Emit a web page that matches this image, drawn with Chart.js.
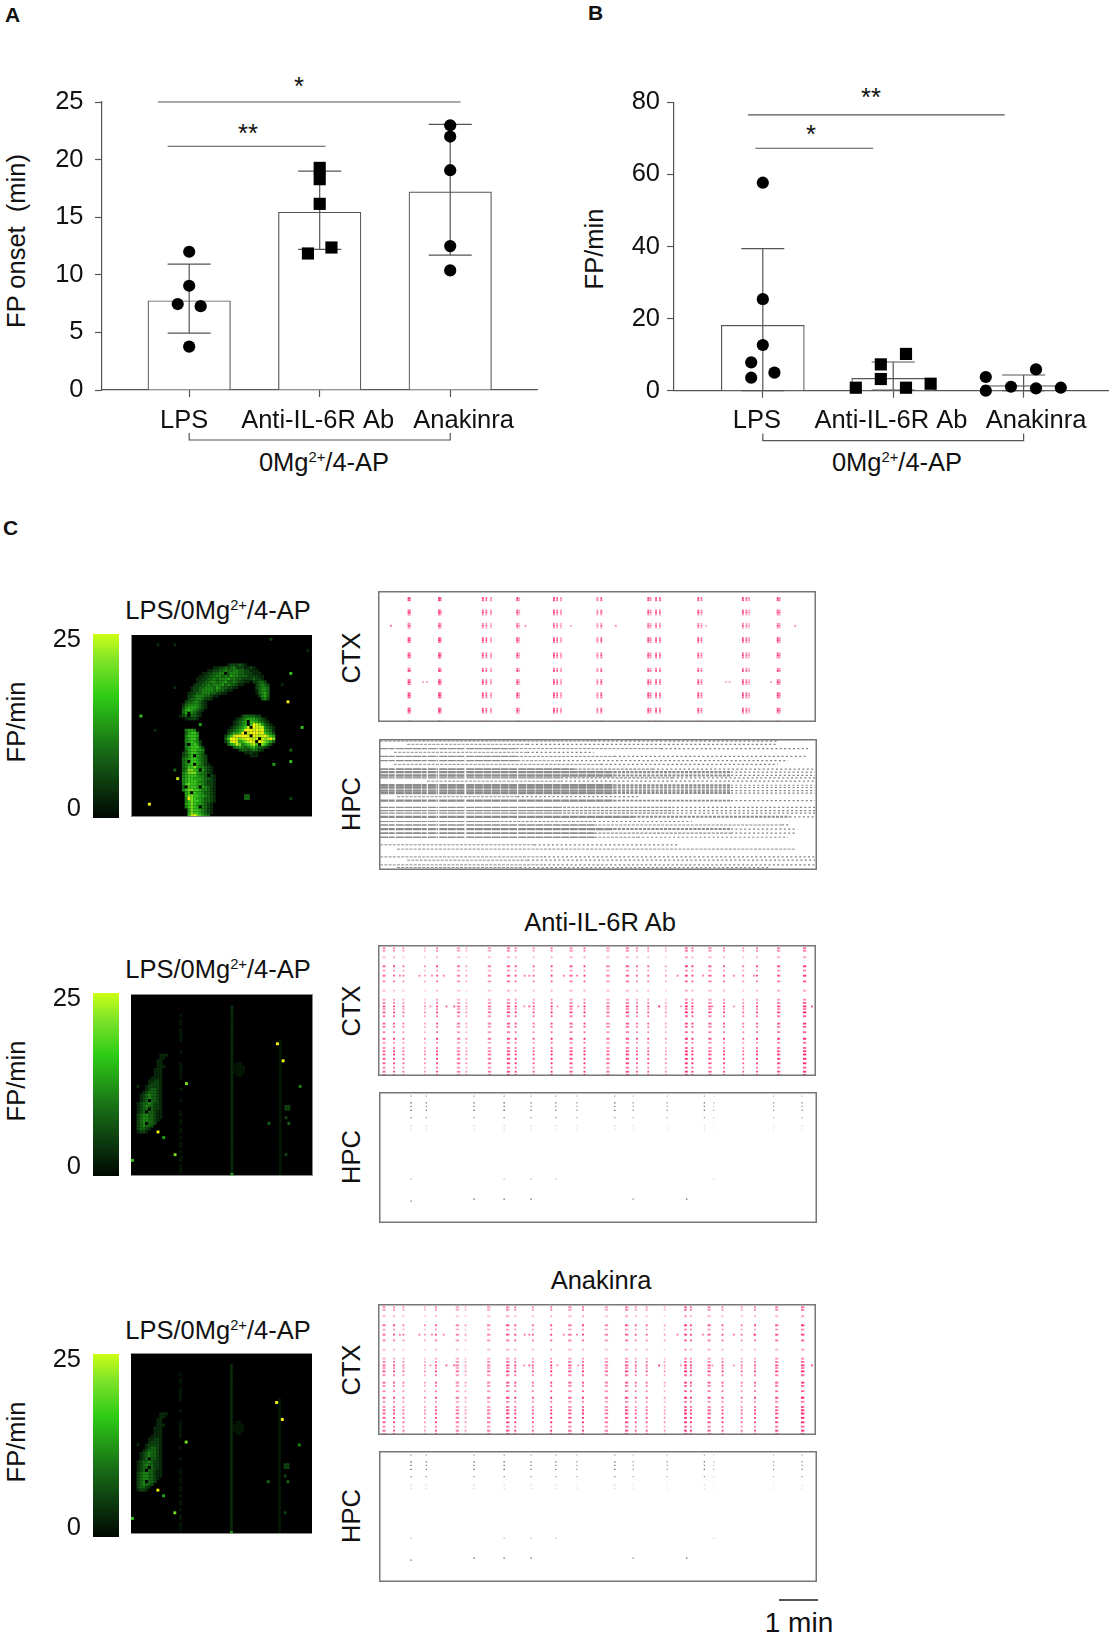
<!DOCTYPE html>
<html>
<head>
<meta charset="utf-8">
<title>FP onset and rate</title>
<script src="https://cdn.jsdelivr.net/npm/chart.js@4"></script>
<style>
  html, body { margin: 0; padding: 0; background: #fff; }
  body { position: relative; width: 1112px; height: 1637px; overflow: hidden; font-family: "Liberation Sans", Arial, sans-serif; color: #111; }
  canvas { position: absolute; }
  .t { position: absolute; font-size: 25.5px; line-height: 25.5px; white-space: nowrap; transform: translateX(-50%); }
  .r { position: absolute; font-size: 25.5px; line-height: 25.5px; white-space: nowrap; transform: translate(-50%, -50%) rotate(-90deg); }
  .p { position: absolute; font-size: 21px; line-height: 21px; font-weight: bold; }
  sup { font-size: 0.58em; line-height: 0; }
</style>
</head>
<body>
<div class="p" style="left:5px;top:4px">A</div>
<div class="p" style="left:588px;top:2px">B</div>
<div class="p" style="left:3px;top:517px">C</div>

<div class="r" style="left:17px;top:241px">FP onset&nbsp; (min)</div>
<div class="r" style="left:595px;top:249px">FP/min</div>
<div class="t" style="left:299px;top:74px">*</div>
<div class="t" style="left:248px;top:121px">**</div>
<div class="t" style="left:871px;top:85px">**</div>
<div class="t" style="left:811px;top:122px">*</div>
<div class="t" style="left:324px;top:450px">0Mg<sup>2+</sup>/4-AP</div>
<div class="t" style="left:897px;top:450px">0Mg<sup>2+</sup>/4-AP</div>

<div class="t" style="left:218px;top:598px">LPS/0Mg<sup>2+</sup>/4-AP</div>
<div class="t" style="left:218px;top:957px">LPS/0Mg<sup>2+</sup>/4-AP</div>
<div class="t" style="left:218px;top:1318px">LPS/0Mg<sup>2+</sup>/4-AP</div>
<div class="t" style="left:600px;top:910px">Anti-IL-6R Ab</div>
<div class="t" style="left:601px;top:1268px">Anakinra</div>

<div class="r" style="left:17px;top:722px">FP/min</div>
<div class="r" style="left:17px;top:1081px">FP/min</div>
<div class="r" style="left:17px;top:1442px">FP/min</div>
<div class="r" style="left:352px;top:658px">CTX</div>
<div class="r" style="left:352px;top:804px">HPC</div>
<div class="r" style="left:352px;top:1011px">CTX</div>
<div class="r" style="left:352px;top:1157px">HPC</div>
<div class="r" style="left:352px;top:1370px">CTX</div>
<div class="r" style="left:352px;top:1516px">HPC</div>
<div style="position:absolute;left:779px;top:1599px;width:39px;height:1.5px;background:#555"></div>
<div class="t" style="left:799px;top:1609px;font-size:28px;line-height:28px">1 min</div>

<script>
"use strict";

/* Panel A */
const categories = ["LPS", "Anti-IL-6R Ab", "Anakinra"];
const onsetMeans = [7.75, 15.43, 17.2];
const onsetUpper = [10.92, 19.0, 23.06];
const onsetLower = [4.94, 12.2, 11.7];
const onsetLpsX = [1, 1, 0.912, 1.088, 1];
const onsetLpsY = [12.0, 9.05, 7.46, 7.28, 3.76];
const onsetAntiX = [2, 2, 2, 2.09, 1.91];
const onsetAntiY = [19.28, 18.3, 16.16, 12.37, 11.85];
const onsetAnakX = [3, 3, 3, 3, 3];
const onsetAnakY = [22.98, 22.0, 19.08, 12.49, 10.38];

/* Panel B */
const rateMeans = [18.13, 3.42, 1.39];
const rateUpper = [39.4, 7.96, 4.35];
const rateLower = [0, 0.2, 0];
const rateLpsX = [1, 1, 1, 0.911, 1.089, 0.911];
const rateLpsY = [57.7, 25.4, 12.67, 7.86, 5.0, 3.6];
const rateAntiX = [2.098, 1.905, 1.905, 2.287, 1.713, 2.098];
const rateAntiY = [10.2, 7.3, 3.24, 1.94, 0.83, 0.83];
const rateAnakX = [3.095, 2.71, 2.903, 3.095, 3.285, 2.71];
const rateAnakY = [5.9, 3.8, 1.1, 0.65, 0.83, 0];

/* Heat map palette, one colour per level, the last one is the faintest */
const heatPalette = ["#000000", "#082a0a", "#0e4410", "#156413", "#1c8415", "#26a418", "#38c41c", "#78e01c", "#c0f014", "#f6f812", "#041804"];

/* Heat map 1: [row, first column, levels] */
const heat1Rows = [
  [10,34,"1222321"],[11,29,"112232342221121"],[12,27,"112233433443322111"],[13,25,"112233440344433222111"],
  [14,24,"11223344343544333222211"],[15,23,"112233434445343322223221"],[16,23,"1223344344533432211"],[16,43,"22332"],
  [17,22,"122334344453433211"],[17,44,"23432"],[18,21,"12233444354332211"],[18,44,"23443"],
  [19,21,"122344443433211"],[19,44,"13443"],[20,20,"12233444332211"],[20,44,"13453"],
  [21,20,"22344433211"],[21,45,"2453"],[22,20,"233443221"],[22,46,"342"],[23,19,"23344321"],
  [24,18,"134444321"],[25,18,"245554321"],[26,18,"35654321"],[27,18,"3504321"],[28,17,"12303321"],[29,19,"12221"],
  [28,39,"2333322"],[29,37,"12345554321"],[30,36,"1234506654321"],[31,36,"12345069875321"],
  [32,35,"1234568098884321"],[33,34,"12345699989895431"],[34,34,"23556908999896542"],[35,33,"246899998098889765"],
  [36,33,"369987889888087897"],[37,33,"248985678980987653"],[38,34,"3568745678607642"],[39,36,"3454345643321"],
  [40,38,"233234321"],[41,40,"11211"],[42,42,"111"],
  [33,19,"4554"],[34,19,"35664"],[35,19,"46665"],[36,19,"45664"],[37,19,"456542"],[38,19,"305652"],[39,19,"4566642"],
  [40,19,"3566554"],[41,18,"23566543"],[42,18,"234605432"],[43,18,"345665432"],[44,18,"340665432"],[45,18,"3456054321"],
  [46,18,"34667544321"],[47,18,"34776505321"],[48,18,"45777544321"],[49,18,"456665443021"],[50,18,"456655543321"],
  [51,18,"456665443221"],[52,18,"467665543221"],[53,18,"306665054321"],[54,18,"467766544321"],[55,19,"56065543321"],
  [56,19,"57766554321"],[57,19,"49765543321"],[58,19,"46766543321"],[59,19,"5676554321"],[60,19,"4676504321"],
  [61,20,"576654321"],[62,20,"576654321"],[63,20,"68976543"]
];
const heat1Dots = [
  [28,3,6],[31,24,5],[13,56,6],[23,55,9],[32,60,6],[40,56,3],[44,56,6],[45,50,5],[47,15,3],[50,16,8],[59,6,9],
  [56,40,3],[56,41,3],[57,40,3],[57,41,3],[57,56,2],[1,49,2],[3,15,1],[5,62,1],[3,9,1],[33,8,1],[17,53,1],[18,15,1]
];

/* Heat maps 2 and 3: [row, first column, levels] */
const heat2Rows = [
  [21,10,"111"],[22,10,"11"],[23,9,"11"],[24,9,"11"],[25,9,"111"],[26,8,"111"],[27,8,"111"],[28,8,"111"],[29,7,"1111"],
  [30,6,"11221"],[31,6,"12221"],[32,5,"122221"],[33,5,"123321"],[34,4,"1233321"],[35,3,"12343321"],[36,3,"12343321"],
  [37,3,"12303321"],[38,2,"123343221"],[39,2,"123433221"],[40,2,"123303221"],[41,2,"123033211"],[42,2,"234433211"],
  [43,2,"234433211"],[44,2,"23443321"],[45,2,"2340332"],[46,2,"234332"],[47,2,"23321"],[48,2,"1221"]
];
/* [column, first row, last row, level] */
const heat2Lines = [
  [17,7,7,10],[17,9,9,10],[17,10,10,10],[17,12,12,10],[17,13,16,10],[17,20,20,10],[17,24,29,10],[17,33,33,10],[17,37,37,10],
  [17,41,42,10],[17,44,45,10],[17,47,48,10],[17,50,50,10],[17,52,53,10],[17,55,55,10],[17,57,58,10],[17,60,62,10],
  [35,4,63,1],[52,16,63,10],
  [36,25,27,10],[37,24,28,10],[38,24,28,10],[39,25,27,10]
];
const heat2Dots = [
  [17,51,9],[23,53,9],[31,19,7],[48,9,9],[50,11,5],[56,15,7],[32,59,4],[45,48,3],[45,55,3],[43,54,2],
  [39,55,2],[39,54,2],[40,55,2],[40,54,2],[56,54,2],[32,2,1],[58,0,6],[63,35,5]
];

/* Raster data: time in minutes, channel counted from the top */
const ctx1Times = [0.78,0.82,1.56,1.60,2.68,2.77,2.89,3.56,3.61,4.50,4.58,4.68,5.61,5.71,6.91,6.97,7.11,7.21,8.19,8.27,9.33,9.42,9.49,10.22,10.27];
const ctx1TimeWeights = [1,0.7,1,0.8,1,0.8,0.6,1,0.5,1,0.8,0.6,0.7,0.9,1,0.7,0.9,0.8,1,0.7,1,0.8,0.5,1,0.7];
const ctx1Channels = [3.5,4.5,9.5,10.5,11.5,16,17,18,23,24,25,30.5,31.5,32.5,38,39,43.5,44.5,45.5,50,51,52,57.5,58.5,59.5,63.5];
const ctx1ChannelWeights = [0.9,0.8,0.7,0.9,0.5,0.5,0.8,0.4,0.7,0.9,0.6,0.7,0.9,0.6,0.6,0.9,0.6,0.9,0.6,0.8,0.9,0.7,0.8,0.9,0.5,0.3];
const ctx1StrayTimes = [0.33,3.77,4.93,6.08,10.67,8.39,1.15,1.25,8.9,8.99,10.05];
const ctx1StrayChannels = [17,17,17,17,17,17,44.5,44.5,44.5,44.5,44.5];
const ctx1StrayWeights = [0.7,0.5,0.4,0.5,0.5,0.4,0.4,0.4,0.4,0.4,0.4];

const ctx2Times = [0.14,0.17,0.41,0.65,1.2,1.51,2.04,2.08,2.26,2.83,2.87,3.32,3.36,3.52,3.98,4.44,4.92,4.96,5.28,5.86,5.9,6.36,6.4,6.62,6.91,7.36,7.87,7.9,8.04,8.47,8.51,8.85,9.34,9.69,10.23,10.27,10.89,10.93];
const ctx2TimeWeights = [0.7,0.6,0.9,0.7,0.5,0.9,0.6,0.6,0.5,0.6,0.6,0.9,0.7,0.95,0.8,1,0.8,0.6,1,0.6,0.6,0.9,0.7,0.8,0.8,0.5,0.9,0.8,1,0.8,0.6,0.9,0.7,0.9,0.9,0.6,1,0.9];
const ctx2Channels = [1.5,2.8,6,10.4,12.5,15,17.8,22.3,26.7,28.3,30,31.3,32.9,34.8,38.4,40,42.6,45.8,47.8,50.3,51.9,53.5,55.6,57.8,59.9,61.9,63.5];
const ctx2ChannelWeights = [0.6,0.6,0.4,0.9,0.5,0.9,0.7,0.4,0.5,0.7,0.95,0.6,1,0.7,0.9,0.7,0.7,1,0.6,0.7,0.9,0.95,1,1,0.7,0.95,0.9];
const ctx2StrayTimes = [0.56,1.06,1.38,1.68,3.75,3.87,4.75,5.09,7.66,8.31,9.1,9.62,0.02,1.34,1.75,1.95,3.74,3.87,4.59,5.12,7.19,7.75,8.55,9.1,11.1];
const ctx2StrayChannels = [15,15,15,15,15,15,15,15,15,15,15,15,30,30,30,30,30,30,30,30,30,30,30,30,30];
const ctx2StrayWeights = [0.6,0.6,0.6,0.6,0.6,0.6,0.6,0.6,0.6,0.6,0.6,0.6,0.5,0.5,0.7,0.7,0.5,0.7,0.5,0.5,0.9,0.5,0.5,0.5,0.8];

const ctx3Times = [0.14,0.17,0.41,0.65,1.2,1.48,2.01,2.05,2.24,2.81,2.85,3.3,3.34,3.51,3.96,4.43,4.89,4.93,5.24,5.82,5.86,6.34,6.38,6.59,6.87,7.33,7.85,7.88,8.0,8.45,8.49,8.81,9.3,9.64,10.18,10.22,10.84,10.88];

const hpc2Times = [0.82,1.21,2.43,3.2,3.89,4.52,5.06,6.03,6.5,7.37,8.32,8.56,10.09,10.82];
const hpc2TimeWeights = [1,0.8,0.9,1,0.8,0.8,0.6,0.9,0.6,0.6,0.8,0.4,0.6,0.7];
const hpc2Channels = [2,5.3,7,9,12.5,16.6,18.3];
const hpc2ChannelWeights = [0.6,1,0.8,1,0.7,0.3,0.25];
const hpc2StrayTimes = [0.82,3.2,3.89,4.52,8.56,0.82,2.43,3.2,3.89,6.5,7.87];
const hpc2StrayChannels = [42.6,42.6,42.6,42.6,42.6,53.3,52.3,52.3,52.3,52.3,52.3];
const hpc2StrayWeights = [0.4,0.4,0.4,0.4,0.25,0.8,0.9,0.9,0.9,0.7,0.9];

/* HPC rows: [channel, start, end of dense part, end of dashed part, end of sparse part, line width] */
const hpc1Rows = [
  [1,0.03,0.03,5.5,10.2,1.2],[2.6,0.72,0.72,3.79,10.2,1],[4.7,0.03,3.5,7.21,10.97,1.3],[6.5,0.38,0.38,3.79,5.5,1],
  [8.5,0.03,3.5,6.02,10.97,1.3],[10.6,0.03,3.54,4.6,10.46,1.2],[12.4,0.38,0.38,5.68,10.2,1],[14.7,0.03,5,7,11.15,1.6],
  [16.2,0.03,6,9,11.15,2.4],[17.8,0.03,6,9,11.15,2.4],[19,0.03,4.65,7.5,11.15,1.4],[20.6,1.23,1.23,4.65,11.15,1],
  [22.6,0.03,6,9,11.15,2.4],[23.7,0.03,6,9,11.15,2.4],[25.2,0.03,6,9,11.15,2.4],[26.4,0.03,6,9,11.15,2.4],
  [28.2,0.46,0.46,3.54,6.62,1],[30.1,0.03,6,9,11.15,2.2],[33.4,0.03,4.6,7.5,11.15,1.4],[35,0.03,4.6,7.5,11.15,1.4],
  [36.2,0.03,4.6,7.5,11.15,1.4],[38,0.03,6.5,10.5,11.2,2.2],[40.3,0.03,3,5.5,8,1.2],[42,0.03,5.5,10.3,10.5,1.4],
  [44,0.03,6,9,10.63,2.2],[46,0.03,5.5,9,10.63,1.6],[48,0.03,5.5,6.62,10.46,1.4],[51.7,0.03,0.03,3.97,7.64,1.2],
  [53.8,0.46,0.46,10.63,10.63,1],[57.6,0.03,0.03,4.22,11.15,1.2],[59.2,0.72,0.72,3.8,11.15,1],[61.5,0.03,0.03,4.22,11.15,1.2],[62.8,0.46,0.46,3.6,10,1]
];
const hpc1Gaps = [0.4, 1.22, 1.51, 2.2, 3.53];

const lineColor = "#555";
const fontFamily = '"Liberation Sans", Arial, sans-serif';
const pink = "255,20,100";

function addCanvas(left, top, width, height) {
  const canvas = document.createElement("canvas");
  canvas.width = width;
  canvas.height = height;
  canvas.style.left = left + "px";
  canvas.style.top = top + "px";
  document.body.appendChild(canvas);
  return canvas;
}

function zipPoints(xs, ys) {
  return xs.map((x, i) => ({ x: x, y: ys[i] }));
}

/* Error bars as one broken line */
function errorBarPoints(upper, lower, capWidth) {
  const points = [];
  const gap = { x: NaN, y: NaN };
  upper.forEach((high, i) => {
    const x = i + 1;
    points.push({ x: x, y: lower[i] }, { x: x, y: high }, gap);
    points.push({ x: x - capWidth, y: high }, { x: x + capWidth, y: high }, gap);
    points.push({ x: x - capWidth, y: lower[i] }, { x: x + capWidth, y: lower[i] }, gap);
  });
  return points;
}

function lineSet(data, order) {
  return { type: "scatter", showLine: true, data: data, borderColor: lineColor, borderWidth: 1.2, pointRadius: 0, clip: false, order: order };
}

function markerSet(xs, ys, style) {
  return {
    type: "scatter", data: zipPoints(xs, ys), pointStyle: style, pointRadius: style === "rect" ? 8.6 : 6.1,
    backgroundColor: "#000", borderWidth: 0, clip: false, order: 1
  };
}

function categoryLabels(names, offsets, baseline) {
  return {
    id: "categoryLabels",
    afterDraw(chart) {
      const ctx = chart.ctx;
      ctx.save();
      ctx.font = "25.5px " + fontFamily;
      ctx.fillStyle = "#111";
      ctx.textAlign = "center";
      ctx.textBaseline = "alphabetic";
      names.forEach((name, i) => {
        ctx.fillText(name, chart.scales.x.getPixelForValue(i + 1) + offsets[i], baseline);
      });
      ctx.restore();
    }
  };
}

/* Bar charts for panel A and B */
function createBarChart(canvas, cfg) {
  new Chart(canvas, {
    type: "bar",
    data: {
      datasets: [
        {
          data: cfg.means.map((m, i) => ({ x: i + 1, y: m })), barThickness: cfg.barWidth,
          backgroundColor: "#fff", borderColor: lineColor, borderWidth: 1.2, order: 3
        },
        lineSet(errorBarPoints(cfg.upper, cfg.lower, 0.165), 2),
        lineSet(cfg.lines, 2),
        ...cfg.markers
      ]
    },
    options: {
      responsive: false,
      animation: false,
      events: [],
      layout: { autoPadding: false, padding: cfg.padding },
      plugins: { legend: { display: false }, tooltip: { enabled: false } },
      scales: {
        x: {
          type: "linear", min: cfg.xMin, max: cfg.xMax, offset: false,
          afterBuildTicks: s => { s.ticks = [{ value: 1 }, { value: 2 }, { value: 3 }]; },
          afterFit: s => { s.height = cfg.xHeight; },
          ticks: { display: false },
          border: { color: lineColor, width: 1.2 },
          grid: { offset: false, drawOnChartArea: false, tickLength: 7, tickColor: lineColor, tickWidth: 1.2 }
        },
        y: {
          min: 0, max: cfg.yMax,
          afterFit: s => { s.width = cfg.yWidth; },
          ticks: { stepSize: cfg.yStep, padding: cfg.tickPadding, color: "#111", font: { family: fontFamily, size: 25.5 } },
          border: { color: lineColor, width: 1.2 },
          grid: { drawOnChartArea: false, tickLength: 7, tickColor: lineColor, tickWidth: 1.2 }
        }
      }
    },
    plugins: [categoryLabels(categories, cfg.labelOffsets, 428)]
  });
}

/* Colour bar with the 0 and 25 ticks */
function createColorbar(left, top, height) {
  new Chart(addCanvas(left, top - 15, 79, height + 30), {
    type: "bar",
    data: {
      labels: [""],
      datasets: [{
        data: [[-1.29, 25.89]], barPercentage: 1, categoryPercentage: 1, borderWidth: 0, borderSkipped: false,
        backgroundColor: c => {
          const area = c.chart.chartArea;
          if (!area) return "#000";
          const g = c.chart.ctx.createLinearGradient(0, area.top, 0, area.bottom);
          g.addColorStop(0, "#ccff14");
          g.addColorStop(0.14, "#80e428");
          g.addColorStop(0.34, "#2ecb16");
          g.addColorStop(0.62, "#187016");
          g.addColorStop(0.85, "#0a300c");
          g.addColorStop(1, "#000800");
          return g;
        }
      }]
    },
    options: {
      responsive: false,
      animation: false,
      events: [],
      layout: { autoPadding: false, padding: { top: 15, bottom: 15 } },
      plugins: { legend: { display: false }, tooltip: { enabled: false } },
      scales: {
        x: { display: false },
        y: {
          min: -1.29, max: 25.89,
          afterBuildTicks: s => { s.ticks = [{ value: 0 }, { value: 25 }]; },
          afterFit: s => { s.width = 53; s.paddingTop = 0; s.paddingBottom = 0; },
          ticks: { padding: 12, color: "#111", font: { family: fontFamily, size: 25.5 } },
          border: { display: false },
          grid: { display: false, drawTicks: false }
        }
      }
    }
  });
}

/* Thin edge lines round a plot, sides is a string of l, r, t, b */
function edges(color, width, sides) {
  return {
    id: "edges",
    afterDraw(chart) {
      const a = chart.chartArea;
      const ctx = chart.ctx;
      ctx.save();
      ctx.fillStyle = color;
      if (sides.includes("l")) ctx.fillRect(a.left, a.top, width, a.height);
      if (sides.includes("r")) ctx.fillRect(a.right - width, a.top, width, a.height);
      if (sides.includes("t")) ctx.fillRect(a.left, a.top, a.width, width);
      if (sides.includes("b")) ctx.fillRect(a.left, a.bottom - width, a.width, width);
      ctx.restore();
    }
  };
}

function heatPoints(rows, lines, dots) {
  const points = [];
  rows.forEach(r => {
    [...r[2]].forEach((level, i) => points.push({ x: r[1] + i + 0.5, y: r[0] + 0.5, level: Number(level) }));
  });
  lines.forEach(l => {
    for (let row = l[1]; row <= l[2]; row++) points.push({ x: l[0] + 0.5, y: row + 0.5, level: l[3] });
  });
  dots.forEach(d => points.push({ x: d[1] + 0.5, y: d[0] + 0.5, level: d[2] }));
  return points;
}

function rasterOptions() {
  return {
    responsive: false,
    animation: false,
    events: [],
    layout: { autoPadding: false },
    plugins: { legend: { display: false }, tooltip: { enabled: false } },
    scales: {
      x: { display: false, min: 0, max: 11.2 },
      y: { display: false, min: 0, max: 64, reverse: true }
    }
  };
}

function createHeatmap(left, top, width, height, points, sides) {
  const canvas = addCanvas(left, top, width, height);
  canvas.style.background = "#000";
  const options = rasterOptions();
  options.scales.x.max = 64;
  new Chart(canvas, {
    type: "scatter",
    data: {
      datasets: [{
        data: points, pointStyle: "rect", pointRadius: 2.05, borderWidth: 0,
        backgroundColor: points.map(p => heatPalette[p.level])
      }]
    },
    options: options,
    plugins: [edges("#8a8a8a", 1, sides)]
  });
}

function rasterPoints(times, timeWeights, channels, channelWeights, strayTimes, strayChannels, strayWeights, rgb) {
  const data = [];
  const colors = [];
  times.forEach((t, i) => {
    channels.forEach((c, j) => {
      data.push({ x: t, y: c });
      colors.push("rgba(" + rgb + "," + (timeWeights[i] * channelWeights[j]).toFixed(2) + ")");
    });
  });
  strayTimes.forEach((t, i) => {
    data.push({ x: t, y: strayChannels[i] });
    colors.push("rgba(" + rgb + "," + strayWeights[i] + ")");
  });
  return { data: data, colors: colors };
}

function createSpikeRaster(left, top, width, height, raster, radius) {
  new Chart(addCanvas(left, top, width, height), {
    type: "scatter",
    data: {
      datasets: [{
        data: raster.data, pointStyle: "rect", pointRadius: radius, borderWidth: 0, backgroundColor: raster.colors
      }]
    },
    options: rasterOptions(),
    plugins: [edges("#777", 1.5, "lrtb")]
  });
}

function rowLine(points, color, width, dash) {
  return { data: points, showLine: true, pointRadius: 0, borderColor: color, borderWidth: width, borderDash: dash, spanGaps: false };
}

/* Dense HPC rows are lines cut at the gaps, followed by a dashed and a sparse tail */
function createLineRaster(left, top, width, height) {
  const datasets = [];
  hpc1Rows.forEach(row => {
    const [channel, start, denseEnd, dashEnd, sparseEnd, lineWidth] = row;
    if (denseEnd > start) {
      const points = [{ x: start, y: channel }];
      hpc1Gaps.filter(g => g > start && g < denseEnd).forEach(g => {
        points.push({ x: g, y: channel }, { x: NaN, y: NaN }, { x: g + 0.03, y: channel });
      });
      points.push({ x: denseEnd, y: channel });
      datasets.push(rowLine(points, "#8c8c8c", lineWidth, [8, 0.6]));
    }
    if (dashEnd > denseEnd) {
      datasets.push(rowLine([{ x: denseEnd, y: channel }, { x: dashEnd, y: channel }], "#8c8c8c", Math.max(lineWidth - 0.3, 1), [3, 1.2]));
    }
    if (sparseEnd > dashEnd) {
      datasets.push(rowLine([{ x: dashEnd, y: channel }, { x: sparseEnd, y: channel }], "#808080", 1.2, [2, 2.4]));
    }
  });
  new Chart(addCanvas(left, top, width, height), {
    type: "scatter",
    data: { datasets: datasets },
    options: rasterOptions(),
    plugins: [edges("#777", 1.5, "lrtb")]
  });
}

/* Panel A */
createBarChart(addCanvas(0, 0, 556, 500), {
  means: onsetMeans, upper: onsetUpper, lower: onsetLower, barWidth: 82.5,
  xMin: 0.332, xMax: 3.665, yMax: 25, yStep: 5, yWidth: 102, xHeight: 110, tickPadding: 11.5,
  padding: { top: 102, right: 19 }, labelOffsets: [-5, -2, 13.4],
  lines: [
    { x: 0.761, y: 25 }, { x: 3.079, y: 25 }, { x: NaN, y: NaN },
    { x: 0.835, y: 21.16 }, { x: 2.045, y: 21.16 }, { x: NaN, y: NaN },
    { x: 1, y: -3.73 }, { x: 1, y: -4.34 }, { x: 3, y: -4.34 }, { x: 3, y: -3.73 }
  ],
  markers: [markerSet(onsetLpsX, onsetLpsY, "circle"), markerSet(onsetAntiX, onsetAntiY, "rect"), markerSet(onsetAnakX, onsetAnakY, "circle")]
});

/* Panel B */
createBarChart(addCanvas(560, 0, 552, 500), {
  means: rateMeans, upper: rateUpper, lower: rateLower, barWidth: 83,
  xMin: 0.319, xMax: 3.647, yMax: 80, yStep: 20, yWidth: 114, xHeight: 109.3, tickPadding: 7,
  padding: { top: 102.3, right: 4 }, labelOffsets: [-6, -2.3, 12.4],
  lines: [
    { x: 0.886, y: 76.5 }, { x: 2.855, y: 76.5 }, { x: NaN, y: NaN },
    { x: 0.943, y: 67.25 }, { x: 1.846, y: 67.25 }, { x: NaN, y: NaN },
    { x: 1, y: -11.9 }, { x: 1, y: -13.87 }, { x: 3, y: -13.87 }, { x: 3, y: -11.9 }
  ],
  markers: [markerSet(rateLpsX, rateLpsY, "circle"), markerSet(rateAntiX, rateAntiY, "rect"), markerSet(rateAnakX, rateAnakY, "circle")]
});

/* Panel C */
createColorbar(40, 634, 184);
createColorbar(40, 993, 183);
createColorbar(40, 1354, 183);

createHeatmap(131, 635, 181, 182, heatPoints(heat1Rows, [], heat1Dots), "lb");
createHeatmap(131, 994, 182, 182, heatPoints(heat2Rows, heat2Lines, heat2Dots), "trb");
createHeatmap(131, 1353, 181, 181, heatPoints(heat2Rows, heat2Lines, heat2Dots), "tb");

const ctx1Raster = rasterPoints(ctx1Times, ctx1TimeWeights, ctx1Channels, ctx1ChannelWeights, ctx1StrayTimes, ctx1StrayChannels, ctx1StrayWeights, pink);
const ctx2Raster = rasterPoints(ctx2Times, ctx2TimeWeights, ctx2Channels, ctx2ChannelWeights, ctx2StrayTimes, ctx2StrayChannels, ctx2StrayWeights, pink);
const ctx3Raster = rasterPoints(ctx3Times, ctx2TimeWeights, ctx2Channels, ctx2ChannelWeights, ctx2StrayTimes, ctx2StrayChannels, ctx2StrayWeights, pink);
const hpc2Raster = rasterPoints(hpc2Times, hpc2TimeWeights, hpc2Channels, hpc2ChannelWeights, hpc2StrayTimes, hpc2StrayChannels, hpc2StrayWeights, "70,70,70");

createSpikeRaster(378, 591, 438, 131, ctx1Raster, 1.3);
createLineRaster(379, 739, 438, 131);
createSpikeRaster(378, 945, 438, 131, ctx2Raster, 1.3);
createSpikeRaster(379, 1092, 438, 131, hpc2Raster, 0.9);
createSpikeRaster(378, 1304, 438, 131, ctx3Raster, 1.3);
createSpikeRaster(379, 1451, 438, 131, hpc2Raster, 0.9);
</script>
</body>
</html>
